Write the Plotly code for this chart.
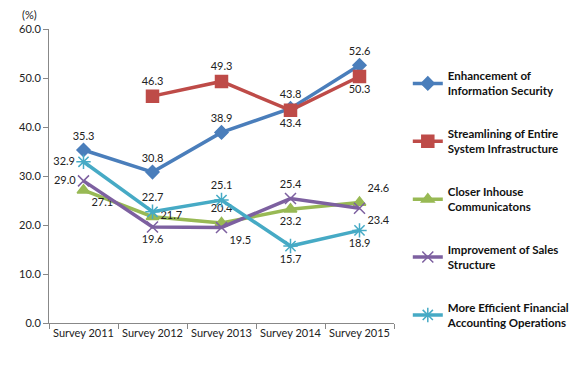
import plotly.graph_objects as go

categories = ["Survey 2011", "Survey 2012", "Survey 2013", "Survey 2014", "Survey 2015"]
security = [35.3, 30.8, 38.9, 43.8, 52.6]
infrastructure = [None, 46.3, 49.3, 43.4, 50.3]
communications = [27.1, 21.7, 20.4, 23.2, 24.6]
sales = [29.0, 19.6, 19.5, 25.4, 23.4]
financial = [32.9, 22.7, 25.1, 15.7, 18.9]

names = [
    "Enhancement of<br>Information Security",
    "Streamlining of Entire<br>System Infrastructure",
    "Closer Inhouse<br>Communicatons",
    "Improvement of Sales<br>Structure",
    "More Efficient Financial<br>Accounting Operations",
]
series = [security, infrastructure, communications, sales, financial]
colors = ["#4A7EBB", "#BE4B48", "#98B954", "#7D60A0", "#46AAC5"]
symbols = ["diamond", "square", "triangle-up", "x-thin-open", "asterisk-open"]
sizes = [10, 12, 11, 11, 12]
positions = [
    ["top center"] * 5,
    ["top center", "top center", "top center", "bottom center", "bottom center"],
    ["bottom right", "middle right", "top center", "bottom center", "top right"],
    ["middle left", "bottom center", "bottom right", "top center", "bottom right"],
    ["middle left", "top center", "top center", "bottom center", "bottom center"],
]

FONT = "Lato, 'DejaVu Sans', sans-serif"
fig = go.Figure()
for name, vals, c, s, sz, pos in zip(names, series, colors, symbols, sizes, positions):
    text = ["" if v is None else f"{v:.1f}" for v in vals]
    fig.add_trace(go.Scatter(
        x=categories, y=vals, name=name, mode="lines+markers+text",
        line=dict(color=c, width=3.5),
        marker=dict(symbol=s, size=sz, color=c, line=dict(color=c, width=1.5)),
        text=text, textposition=pos,
        textfont=dict(family=FONT, size=11, color="#222"),
        legendgroup=name, connectgaps=False,
        cliponaxis=False,
    ))

# page body has an 8px default margin, so the figure is sized to fit inside it
fig.update_layout(
    width=579, height=359,
    margin=dict(l=41, r=171, t=21, b=44),
    plot_bgcolor="white", paper_bgcolor="white",
    font=dict(family=FONT, size=11, color="#222"),
    showlegend=True,
    legend=dict(x=1.04, y=0.888, xanchor="left", yanchor="top",
                font=dict(family=FONT, size=11.5, color="#111", weight="bold"),
                tracegroupgap=25, itemwidth=30, bgcolor="rgba(0,0,0,0)"),
    xaxis=dict(type="category", range=[-0.5, 4.5], showline=True, linecolor="#888",
               linewidth=1, ticks="outside", tickson="boundaries", ticklen=5,
               tickcolor="#888", showgrid=False, zeroline=False, tickangle=0,
               tickfont=dict(family=FONT, size=11, color="#222")),
    yaxis=dict(range=[0, 60], dtick=10, tickformat=".1f", showline=True, linecolor="#888",
               linewidth=1, ticks="outside", ticklen=5, tickcolor="#888",
               showgrid=False, zeroline=False,
               tickfont=dict(family=FONT, size=11, color="#222")),
    annotations=[dict(text="(%)", xref="paper", yref="paper", x=-0.03, y=1.0,
                      xanchor="right", yanchor="bottom", showarrow=False, yshift=6,
                      font=dict(family=FONT, size=11, color="#222"))],
)
fig.write_html("out.html")
